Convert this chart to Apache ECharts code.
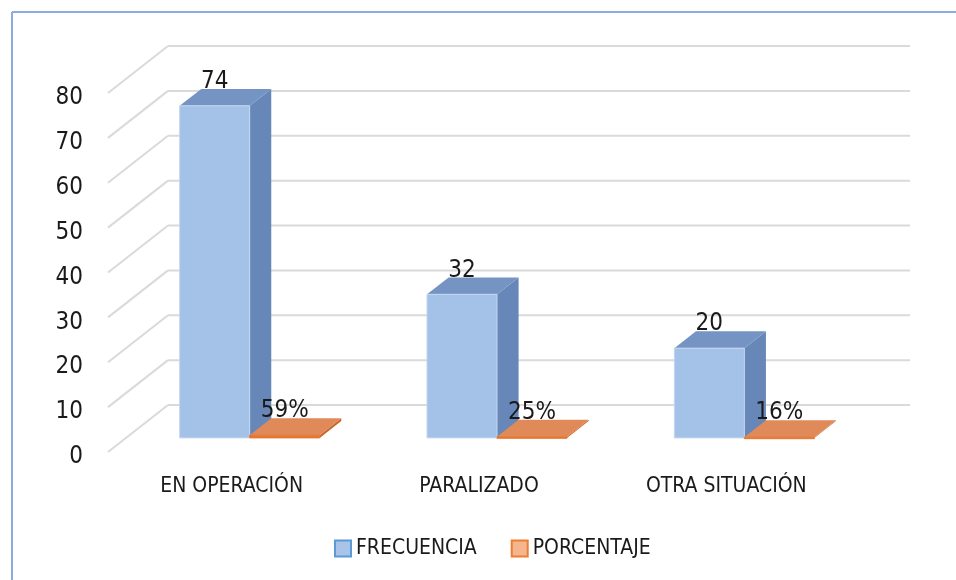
<!DOCTYPE html>
<html>
<head>
<meta charset="utf-8">
<style>
  html, body { margin: 0; padding: 0; background: #fff; }
  #chart { width: 956px; height: 580px; }
</style>
<script src="https://cdn.jsdelivr.net/npm/echarts@6/dist/echarts.min.js"></script>
</head>
<body>
<div id="chart"></div>
<script>
  const categories = ['EN OPERACIÓN', 'PARALIZADO', 'OTRA SITUACIÓN'];
  const frecuencia = [74, 32, 20];
  const porcentaje = [59, 25, 16];
  const yTicks = [0, 10, 20, 30, 40, 50, 60, 70, 80];

  const FONT = "'Liberation Sans Narrow', 'DejaVu Sans Condensed', sans-serif";
  // depth of the 3D box: offset from front plane to back wall
  const DX = 60, DY = -47;
  const FRONT = 0.3, BACK = 0.66;

  function cuboid(side, colors, labelFn) {
    return function (params, api) {
      const cat = api.value(0), v = api.value(1);
      const band = api.size([1, 0])[0];
      const base = api.coord([cat, 0]);
      const top = api.coord([cat, v]);
      const w = band * 0.283;
      const x0 = side === 0 ? base[0] - w : base[0];
      const x1 = x0 + w;
      const fx = FRONT * DX, fy = FRONT * DY, bx = BACK * DX, by = BACK * DY;
      const ty = top[1], y0 = base[1];
      return {
        type: 'group',
        children: [
          {
            type: 'polygon',
            shape: { points: [[x1 + fx, ty + fy], [x1 + bx, ty + by], [x1 + bx, y0 + by], [x1 + fx, y0 + fy]] },
            style: { fill: colors.side }
          },
          {
            type: 'polygon',
            shape: { points: [[x0 + fx, ty + fy], [x0 + bx, ty + by], [x1 + bx, ty + by], [x1 + fx, ty + fy]] },
            style: { fill: colors.top }
          },
          {
            type: 'rect',
            shape: { x: x0 + fx, y: ty + fy, width: w, height: Math.max(y0 - ty, 1.5) },
            style: { fill: colors.front, stroke: colors.edge, lineWidth: 1 }
          },
          {
            type: 'text',
            x: (x0 + x1) / 2 + fx,
            y: ty + fy - 24,
            style: {
              text: labelFn(params.dataIndex),
              font: '24px ' + FONT,
              fill: '#1a1a1a',
              align: 'center',
              verticalAlign: 'middle'
            }
          }
        ]
      };
    };
  }

  const chart = echarts.init(document.getElementById('chart'));
  chart.setOption({
    animation: false,
    backgroundColor: '#fff',
    graphic: [
      { type: 'line', shape: { x1: 12, y1: 12, x2: 956, y2: 12 }, style: { stroke: '#8faadc', lineWidth: 2 } },
      { type: 'line', shape: { x1: 12, y1: 12, x2: 12, y2: 580 }, style: { stroke: '#8faadc', lineWidth: 2 } }
    ],
    legend: {
      left: 329,
      top: 533,
      itemWidth: 16,
      itemHeight: 16,
      itemGap: 34,
      icon: 'rect',
      textStyle: { fontSize: 21, fontFamily: FONT, color: '#1a1a1a' },
      data: [
        { name: 'FRECUENCIA', itemStyle: { color: '#a9c4e8', borderColor: '#5b9bd5', borderWidth: 2 } },
        { name: 'PORCENTAJE', itemStyle: { color: '#f4b68f', borderColor: '#ed7d31', borderWidth: 2 } }
      ]
    },
    grid: { left: 108, top: 93, width: 742, height: 359 },
    xAxis: {
      type: 'category',
      data: categories,
      axisLine: { show: false },
      axisTick: { show: false },
      axisLabel: { margin: 24, fontSize: 21, fontFamily: FONT, color: '#1a1a1a' }
    },
    yAxis: {
      type: 'value',
      min: 0,
      max: 80,
      interval: 10,
      splitLine: { show: false },
      axisLine: { show: false },
      axisTick: { show: false },
      axisLabel: {
        margin: 25,
        formatter: v => '{t|' + v + '}',
        rich: { t: { fontSize: 24, fontFamily: FONT, color: '#1a1a1a', padding: [10, 0, 0, 0] } }
      }
    },
    series: [
      {
        type: 'custom',
        silent: true,
        z: 1,
        data: yTicks.map(v => [0, v]),
        renderItem: function (params, api) {
          const cs = params.coordSys;
          const y = api.coord([0, api.value(1)])[1];
          const left = cs.x, right = cs.x + cs.width;
          const st = { stroke: '#dadada', lineWidth: 2 };
          return {
            type: 'group',
            children: [
              { type: 'line', shape: { x1: left, y1: y, x2: left + DX, y2: y + DY }, style: st },
              { type: 'line', shape: { x1: left + DX, y1: y + DY, x2: right + DX, y2: y + DY }, style: st }
            ]
          };
        }
      },
      {
        name: 'FRECUENCIA',
        type: 'custom',
        z: 2,
        itemStyle: { color: '#a9c4e8' },
        data: frecuencia.map((v, i) => [i, v]),
        renderItem: cuboid(0, { front: '#a4c1e7', top: '#7594c4', side: '#6687b8', edge: '#c3d7f0' }, i => String(frecuencia[i]))
      },
      {
        name: 'PORCENTAJE',
        type: 'custom',
        z: 3,
        itemStyle: { color: '#f4b68f' },
        data: porcentaje.map((v, i) => [i, v / 100]),
        renderItem: cuboid(1, { front: '#e6772f', top: '#df8a58', side: '#c9652a', edge: '#e6772f' }, i => porcentaje[i] + '%')
      }
    ]
  });
</script>
</body>
</html>
